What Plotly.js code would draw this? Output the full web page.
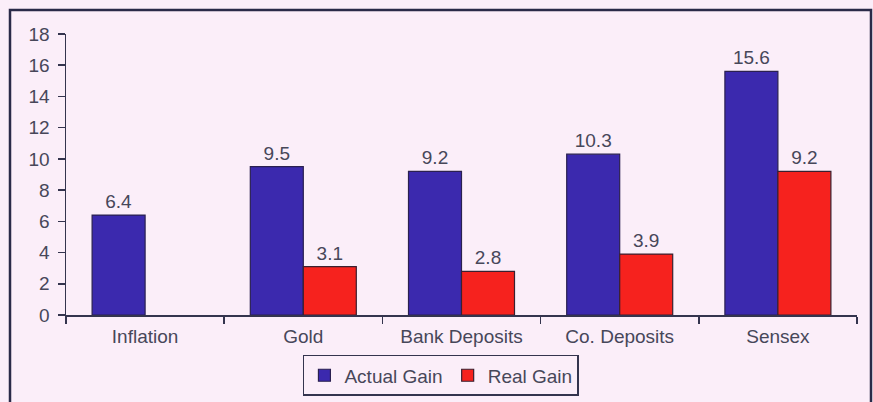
<!DOCTYPE html>
<html>
<head>
<meta charset="utf-8">
<script src="https://cdn.plot.ly/plotly-3.0.1.min.js"></script>
<style>
html,body{margin:0;padding:0;background:#fbeef9;}
#chart{width:873px;height:402px;}
</style>
</head>
<body>
<div id="chart"></div>
<script>
const categories = ["Inflation", "Gold", "Bank Deposits", "Co. Deposits", "Sensex"];
const actualGain = [6.4, 9.5, 9.2, 10.3, 15.6];
const realGain = [null, 3.1, 2.8, 3.9, 9.2];
const yTicks = [0, 2, 4, 6, 8, 10, 12, 14, 16, 18];

const FONT = "Liberation Sans, Arial, sans-serif";
const TXT = "#474759";
const LINE = "#34344e";

const fmt = v => (v === null ? "" : v.toFixed(1));

const traces = [
  {
    type: "bar", name: "Actual Gain", x: categories, y: actualGain,
    text: actualGain.map(fmt), textposition: "outside", cliponaxis: false,
    textfont: {family: FONT, size: 19, color: TXT},
    marker: {color: "#3b29ae", line: {color: "#2a2050", width: 1.2}}
  },
  {
    type: "bar", name: "Real Gain", x: categories, y: realGain,
    text: realGain.map(fmt), textposition: "outside", cliponaxis: false,
    textfont: {family: FONT, size: 19, color: TXT},
    marker: {color: "#f6221e", line: {color: "#3a2030", width: 1.2}}
  }
];

const layout = {
  width: 873, height: 402,
  margin: {l: 66, r: 16, t: 34, b: 87, autoexpand: false},
  paper_bgcolor: "#fbeef9", plot_bgcolor: "#fbeef9",
  font: {family: FONT, size: 19, color: TXT},
  barmode: "group", bargap: 0.33, bargroupgap: 0,
  showlegend: true,
  legend: {
    orientation: "h", x: 0.474, xanchor: "center", y: -0.142, yanchor: "top",
    bordercolor: LINE, borderwidth: 1.5, bgcolor: "#fbeef9",
    font: {family: FONT, size: 19, color: TXT},
    itemwidth: 30, traceorder: "normal"
  },
  xaxis: {
    type: "category", range: [-0.5, 4.5], tickson: "boundaries",
    ticks: "outside", ticklen: 7, tickcolor: LINE, tickwidth: 1.5,
    showline: true, linecolor: LINE, linewidth: 1.5, automargin: false,
    showgrid: false, zeroline: false, ticklabelstandoff: 4,
    tickfont: {family: FONT, size: 19, color: TXT}
  },
  yaxis: {
    range: [0, 18], tickvals: yTicks, ticktext: yTicks.map(String),
    ticks: "outside", ticklen: 7, tickcolor: LINE, tickwidth: 1.5,
    showline: true, linecolor: LINE, linewidth: 1.5, automargin: false,
    showgrid: false, zeroline: false, ticklabelstandoff: 4,
    tickfont: {family: FONT, size: 19, color: TXT}
  },
  shapes: [
    {type: "rect", xref: "paper", yref: "paper",
     x0: -56/791, x1: 1 + 14/791, y0: -100/281, y1: 1 + 24/281,
     line: {color: "#2a2a48", width: 2.5}, fillcolor: "rgba(0,0,0,0)"}
  ]
};

Plotly.newPlot("chart", traces, layout, {displayModeBar: false, staticPlot: true});
</script>
</body>
</html>
